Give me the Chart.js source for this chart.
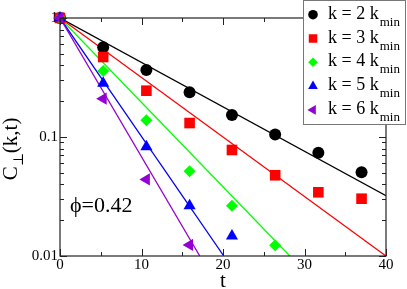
<!DOCTYPE html>
<html lang="en">
<head>
    <meta charset="UTF-8">
    <title>C_perp(k,t)</title>
    <script src="https://cdn.jsdelivr.net/npm/chart.js"></script>
    <style>
        body { margin: 0; background: #fff; }
    </style>
</head>
<body>
    <canvas id="myChart" width="407" height="289"></canvas>
    <script>

// times of the measured points
const times = [0, 5.3, 10.6, 15.9, 21.1, 26.4, 31.7, 37.0];

// C_perp(k,t) for each k
const c2 = [1, 0.567, 0.366, 0.238, 0.153, 0.105, 0.0738, 0.0505];
const c3 = [1, 0.47, 0.245, 0.131, 0.0778, 0.0477, 0.0343, 0.0303];
const c4 = [1, 0.359, 0.138, 0.0515, 0.0265, 0.0123];
const c5 = [1, 0.283, 0.083, 0.0265, 0.0147];
const c6 = [1, 0.21, 0.044, 0.0124];

// exponential fits: start at (0,1), end at (fitEndT, fitEndC)
const fitEndT = [40, 40, 28.2, 20.1, 17.15];
const fitEndC = [0.0321, 0.01, 0.01, 0.01, 0.01];

const kLabels = ['2', '3', '4', '5', '6'];
const xTicks = [0, 10, 20, 30, 40];
const xMinor = [5, 15, 25, 35];
const yTicks = [0.01, 0.1, 1];
const yTickLabels = ['0.01', '0.1', '1'];

const colors = ['#000000', '#ff0000', '#00ff00', '#0000ff', '#9400d3'];
const styles = ['circle', 'rect', 'rectRot', 'triangle', 'triangle'];
const rotations = [0, 0, 0, 0, 270];
const radii = [6, 7.5, 6, 7, 7];

const series = [c2, c3, c4, c5, c6];
const SERIF = '"Liberation Serif", "Times New Roman", "DejaVu Serif", serif';

const datasets = [];
// fit lines first so markers sit on top
series.forEach((s, i) => {
    datasets.push({
        label: 'fit ' + kLabels[i],
        data: [{x: 0, y: 1}, {x: fitEndT[i], y: fitEndC[i]}],
        showLine: true,
        borderColor: colors[i],
        borderWidth: 1.3,
        pointRadius: 0,
        fill: false
    });
});
series.forEach((s, i) => {
    datasets.push({
        label: 'k = ' + kLabels[i] + ' kmin',
        data: s.map((v, j) => ({x: times[j], y: v})),
        showLine: false,
        pointStyle: styles[i],
        rotation: rotations[i],
        pointRadius: radii[i],
        pointHoverRadius: radii[i],
        backgroundColor: colors[i],
        borderColor: colors[i],
        borderWidth: 0,
        clip: false
    });
});
// later datasets are drawn on top; reverse so black/red sit on top at t=0
datasets.reverse();

// inward ticks, frame, texts and legend
const decor = {
    id: 'decor',
    afterDatasetsDraw(chart) {
        const ctx = chart.ctx;
        const a = chart.chartArea;
        const xs = chart.scales.x, ys = chart.scales.y;
        ctx.save();
        ctx.strokeStyle = '#222';
        ctx.lineWidth = 1.2;
        ctx.strokeRect(a.left, a.top, a.right - a.left, a.bottom - a.top);

        ctx.lineWidth = 1;
        ctx.beginPath();
        const tickX = (v, len) => {
            const px = Math.round(xs.getPixelForValue(v)) + 0.5;
            ctx.moveTo(px, a.bottom); ctx.lineTo(px, a.bottom - len);
            ctx.moveTo(px, a.top); ctx.lineTo(px, a.top + len);
        };
        xTicks.forEach(v => tickX(v, 7));
        xMinor.forEach(v => tickX(v, 4));
        const tickY = (v, len) => {
            const py = Math.round(ys.getPixelForValue(v)) + 0.5;
            ctx.moveTo(a.left, py); ctx.lineTo(a.left + len, py);
            ctx.moveTo(a.right, py); ctx.lineTo(a.right - len, py);
        };
        [0.01, 0.1].forEach(d => {
            for (let m = 1; m <= 9; m++) tickY(d * m, m === 1 ? 7 : 4);
        });
        tickY(1, 7);
        ctx.stroke();

        // phi label
        ctx.fillStyle = '#000';
        ctx.font = '22px ' + SERIF;
        ctx.textBaseline = 'alphabetic';
        ctx.textAlign = 'left';
        ctx.fillText('\u03d5=0.42', 70, 212);

        // x title
        ctx.font = '21px ' + SERIF;
        ctx.textAlign = 'center';
        ctx.fillText('t', (a.left + a.right) / 2, 287);

        // y title C_perp(k,t), rotated
        ctx.save();
        ctx.translate(17, 149);
        ctx.rotate(-Math.PI / 2);
        ctx.textAlign = 'left';
        const big = '21px ' + SERIF, small = '14px ' + SERIF;
        ctx.font = big;
        const wC = ctx.measureText('C').width;
        const wK = ctx.measureText('(k,t)').width;
        ctx.font = small;
        const wP = ctx.measureText('\u22a5').width;
        const x0 = -(wC + wP + wK) / 2;
        ctx.font = big;
        ctx.fillText('C', x0, 0);
        ctx.font = small;
        ctx.fillText('\u22a5', x0 + wC, 6);
        ctx.font = big;
        ctx.fillText('(k,t)', x0 + wC + wP, 0);
        ctx.restore();

        // legend box
        ctx.fillStyle = '#fff';
        ctx.fillRect(303, 0, 103, 125);
        ctx.strokeStyle = '#777';
        ctx.lineWidth = 1;
        ctx.strokeRect(303.5, 0.5, 102, 124);

        for (let i = 0; i < 5; i++) {
            const cy = 14.7 + i * 23.8;
            const opts = {
                pointStyle: styles[i], rotation: rotations[i],
                radius: radii[i] * 0.8, borderWidth: 0
            };
            ctx.fillStyle = colors[i];
            ctx.strokeStyle = colors[i];
            Chart.helpers.drawPoint(ctx, opts, 313, cy);
            ctx.fillStyle = '#000';
            ctx.textAlign = 'left';
            ctx.font = '18px ' + SERIF;
            const txt = 'k = ' + kLabels[i] + ' k';
            ctx.fillText(txt, 328, cy + 4);
            const w = ctx.measureText(txt).width;
            ctx.font = '13px ' + SERIF;
            ctx.fillText('min', 328 + w + 1, cy + 11);
        }
        ctx.restore();
    }
};

const config = {
    type: 'scatter',
    data: { datasets: datasets },
    options: {
        responsive: false,
        animation: false,
        devicePixelRatio: 1,
        layout: { padding: { top: 18, right: 21, left: 0, bottom: 0 } },
        plugins: {
            legend: { display: false },
            tooltip: { enabled: false }
        },
        scales: {
            x: {
                type: 'linear',
                min: 0,
                max: 40,
                afterBuildTicks(scale) { scale.ticks = xTicks.map(v => ({value: v})); },
                afterFit(scale) { scale.height = 33; },
                grid: { display: false, drawTicks: false },
                border: { display: false },
                ticks: {
                    padding: 0,
                    autoSkip: false,
                    maxRotation: 0,
                    color: '#000',
                    font: { family: SERIF, size: 15 },
                    callback: v => String(v)
                }
            },
            y: {
                type: 'logarithmic',
                min: 0.01,
                max: 1,
                afterBuildTicks(scale) { scale.ticks = yTicks.map(v => ({value: v})); },
                afterFit(scale) { scale.width = 60; },
                grid: { display: false, drawTicks: false },
                border: { display: false },
                ticks: {
                    padding: 2,
                    autoSkip: false,
                    color: '#000',
                    font: { family: SERIF, size: 15 },
                    callback: function(v) {
                        const i = yTicks.findIndex(t => Math.abs(t - v) < 1e-9);
                        return i >= 0 ? yTickLabels[i] : '';
                    }
                }
            }
        }
    },
    plugins: [decor]
};

const ctx = document.getElementById('myChart').getContext('2d');
const myChart = new Chart(ctx, config);

// make sure the serif font is used once it is ready
if (document.fonts && document.fonts.load) {
    Promise.all([
        document.fonts.load('15px "Liberation Serif"'),
        document.fonts.load('21px "Liberation Serif"')
    ]).then(() => myChart.update());
}

    </script>
</body>
</html>
